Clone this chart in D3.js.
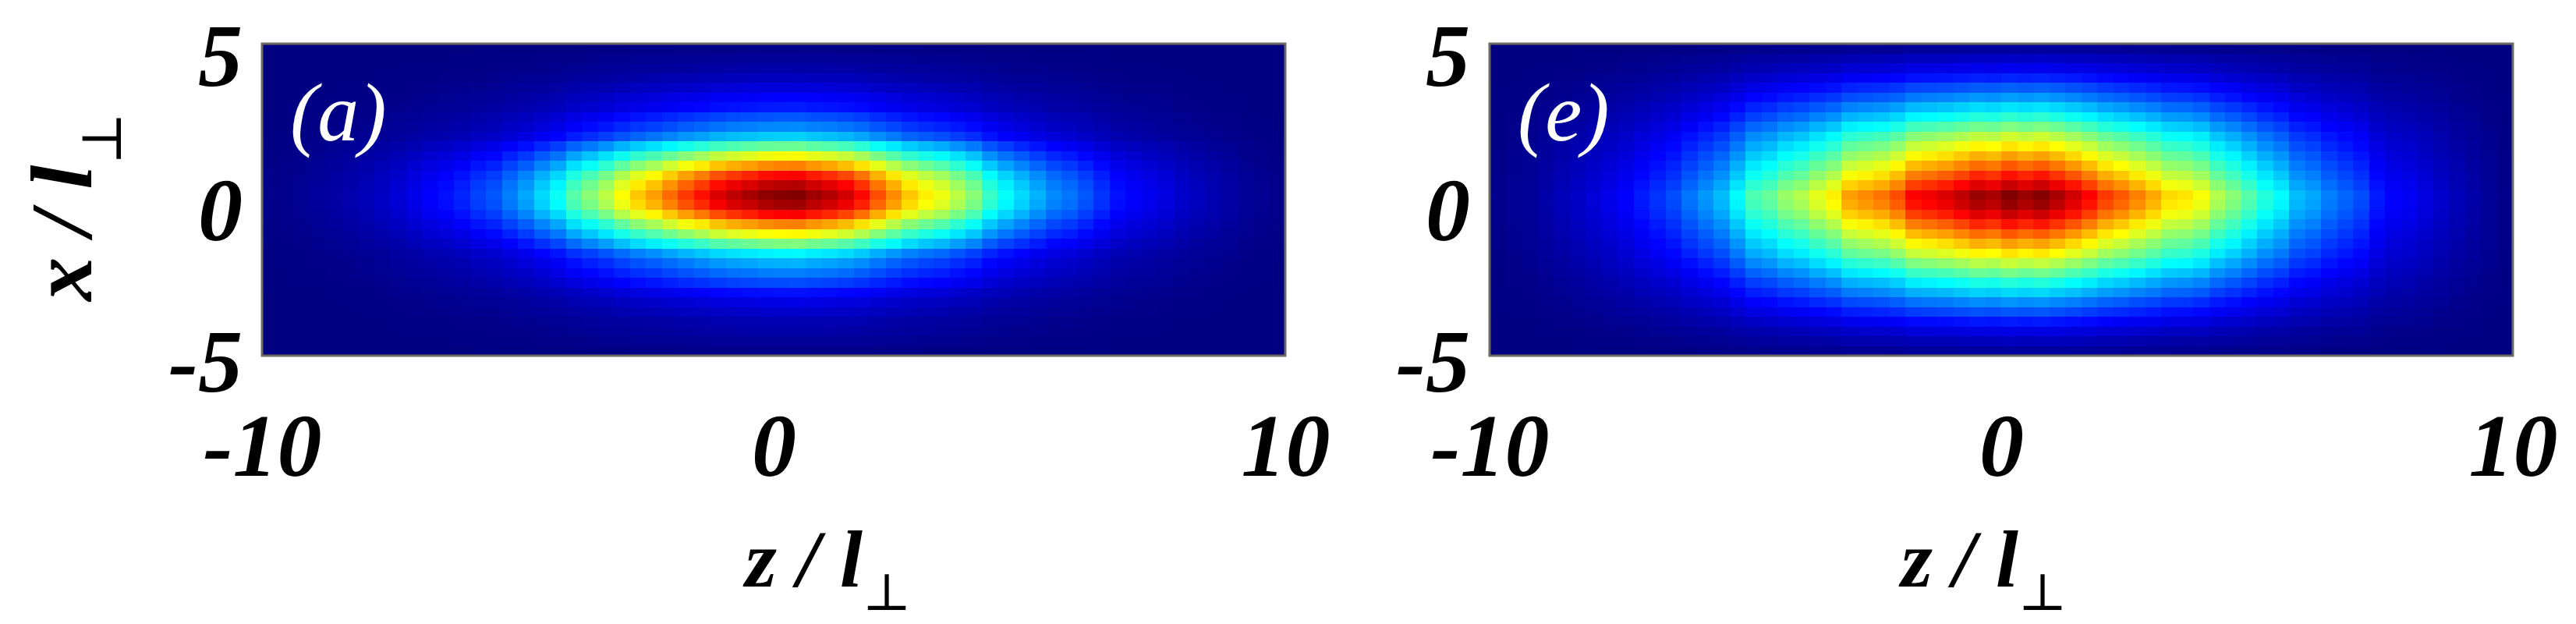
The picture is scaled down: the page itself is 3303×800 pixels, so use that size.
<!DOCTYPE html>
<html>
<head>
<meta charset="utf-8">
<script src="https://cdn.jsdelivr.net/npm/d3@7"></script>
<style>
  body { margin: 0; background: #fff; }
</style>
</head>
<body>
<svg id="chart" width="3303" height="800"></svg>
<script>
// tick labels and panel tags
const zTicks = [-10, 0, 10];
const xTicks = [-5, 0, 5];
const panelTags = ["(a)", "(e)"];

// density, 64 cells along z (at x ~ 0)
const profileZ_a = [
	0.010, 0.015, 0.020, 0.028, 0.035, 0.045, 0.055, 0.068, 0.085, 0.105,
	0.125, 0.140, 0.160, 0.190, 0.210, 0.250, 0.290, 0.340, 0.385, 0.460,
	0.510, 0.560, 0.625, 0.680, 0.720, 0.770, 0.820, 0.860, 0.910, 0.940,
	0.960, 0.985, 0.995, 1.000, 0.970, 0.950, 0.920, 0.870, 0.800, 0.740,
	0.680, 0.640, 0.610, 0.560, 0.510, 0.430, 0.380, 0.340, 0.300, 0.260,
	0.240, 0.210, 0.175, 0.140, 0.125, 0.110, 0.095, 0.075, 0.062, 0.050,
	0.038, 0.025, 0.018, 0.012
];
// 32 cells along x (at z ~ 0), top row first
const profileX_a = [
	0.012, 0.025, 0.040, 0.060, 0.090, 0.125, 0.150, 0.210, 0.260, 0.330,
	0.480, 0.620, 0.750, 0.875, 0.950, 1.000, 0.970, 0.880, 0.750, 0.630,
	0.500, 0.370, 0.300, 0.250, 0.200, 0.140, 0.100, 0.075, 0.050, 0.040,
	0.025, 0.012
];
const profileZ_e = [
	0.012, 0.020, 0.025, 0.040, 0.055, 0.070, 0.088, 0.105, 0.125, 0.150,
	0.175, 0.200, 0.240, 0.275, 0.310, 0.375, 0.450, 0.475, 0.525, 0.550,
	0.600, 0.640, 0.720, 0.740, 0.760, 0.800, 0.875, 0.890, 0.910, 0.940,
	0.975, 0.960, 1.000, 0.975, 0.995, 0.960, 0.920, 0.875, 0.820, 0.790,
	0.750, 0.710, 0.660, 0.650, 0.620, 0.550, 0.510, 0.460, 0.410, 0.375,
	0.310, 0.290, 0.250, 0.225, 0.200, 0.150, 0.125, 0.115, 0.095, 0.075,
	0.055, 0.040, 0.025, 0.012
];
const profileX_e = [
	0.030, 0.070, 0.110, 0.160, 0.220, 0.280, 0.350, 0.420, 0.500, 0.580,
	0.650, 0.720, 0.790, 0.860, 0.930, 1.000, 0.980, 0.930, 0.860, 0.790,
	0.720, 0.650, 0.570, 0.490, 0.410, 0.340, 0.270, 0.210, 0.150, 0.100,
	0.060, 0.030
];

const panels = [
	{tag: panelTags[0], pz: profileZ_a, px: profileX_a, left: 336, right: 1648, labelShift: 70},
	{tag: panelTags[1], pz: profileZ_e, px: profileX_e, left: 1910, right: 3222, labelShift: -22}
];
const plotTop = 56, plotBottom = 456;
const serif = "'Liberation Serif', 'Times New Roman', Times, serif";

// matlab style jet
const jet = function(v) {
	const c = t => Math.max(0, Math.min(1, t));
	return d3.rgb(255 * c(1.5 - Math.abs(4 * v - 3)),
		255 * c(1.5 - Math.abs(4 * v - 2)),
		255 * c(1.5 - Math.abs(4 * v - 1)));
};
const color = d3.scaleSequential(jet).domain([0, 1]);

const svg = d3.select("#chart");

const perpLabel = function(sel, name, size, drop) {
	sel.style("font-family", serif)
		.attr("font-size", size)
		.attr("font-weight", "bold")
		.attr("font-style", "italic");
	sel.append("tspan").text(name + " / l");
	sel.append("tspan")
		.attr("dy", drop)
		.style("font-family", "'DejaVu Serif', serif")
		.attr("font-weight", "normal")
		.attr("font-style", "normal")
		.attr("font-size", size * 0.64)
		.text("\u22A5");
};

panels.forEach(function(p) {
	const nz = p.pz.length, nx = p.px.length;
	const z = d3.scaleLinear().domain([-10, 10]).range([p.left, p.right]);
	const x = d3.scaleLinear().domain([-5, 5]).range([plotBottom, plotTop]);
	const dz = 20 / nz, dx = 10 / nx;

	// cells: outer product of the two read profiles
	const cells = [];
	p.px.forEach(function(vx, j) {
		p.pz.forEach(function(vz, i) {
			cells.push({z0: -10 + i * dz, x1: 5 - j * dx, v: vz * vx});
		});
	});

	const g = svg.append("g");
	g.selectAll("rect")
		.data(cells)
		.join("rect")
		.attr("x", d => z(d.z0))
		.attr("y", d => x(d.x1))
		.attr("width", z(dz) - z(0) + 0.6)
		.attr("height", x(0) - x(dx) + 0.6)
		.attr("fill", d => color(d.v))
		.attr("shape-rendering", "crispEdges");

	// frame
	g.append("rect")
		.attr("x", p.left)
		.attr("y", plotTop)
		.attr("width", p.right - p.left)
		.attr("height", plotBottom - plotTop)
		.attr("fill", "none")
		.attr("stroke", "#6d6a64")
		.attr("stroke-width", 3);

	// axes, tick lines hidden
	const ax = g.append("g")
		.attr("transform", "translate(0," + (plotBottom + 154) + ")")
		.call(d3.axisBottom(z).tickValues(zTicks).tickSize(0).tickFormat(d => String(d)));
	const ay = g.append("g")
		.attr("transform", "translate(" + (p.left - 25) + ",0)")
		.call(d3.axisLeft(x).tickValues(xTicks).tickSize(0).tickFormat(d => String(d)));
	[ax, ay].forEach(function(a) {
		a.select(".domain").remove();
		a.selectAll("text")
			.style("font-family", serif)
			.attr("font-size", 114)
			.attr("font-weight", "bold")
			.attr("font-style", "italic")
			.attr("fill", "#000");
	});
	ax.selectAll("text").attr("dy", 0).attr("y", 0);
	ay.selectAll("text").attr("dy", "0.35em").attr("x", 0)
		.attr("transform", d => "translate(0," + (d === 5 ? 14 : d === 0 ? 12 : 6) + ")");

	// panel tag
	g.append("text")
		.attr("x", p.left + 36)
		.attr("y", 180)
		.attr("fill", "#fff")
		.style("font-family", serif)
		.attr("font-size", 106)
		.attr("font-style", "italic")
		.text(p.tag);

	// bottom label z / l_perp
	g.append("text")
		.attr("x", z(0) + p.labelShift)
		.attr("y", 752)
		.attr("text-anchor", "middle")
		.call(perpLabel, "z", 104, 30);
});

// left label x / l_perp
svg.append("text")
	.attr("transform", "translate(117,265) rotate(-90)")
	.attr("text-anchor", "middle")
	.call(perpLabel, "x", 112, 38);
</script>
</body>
</html>
